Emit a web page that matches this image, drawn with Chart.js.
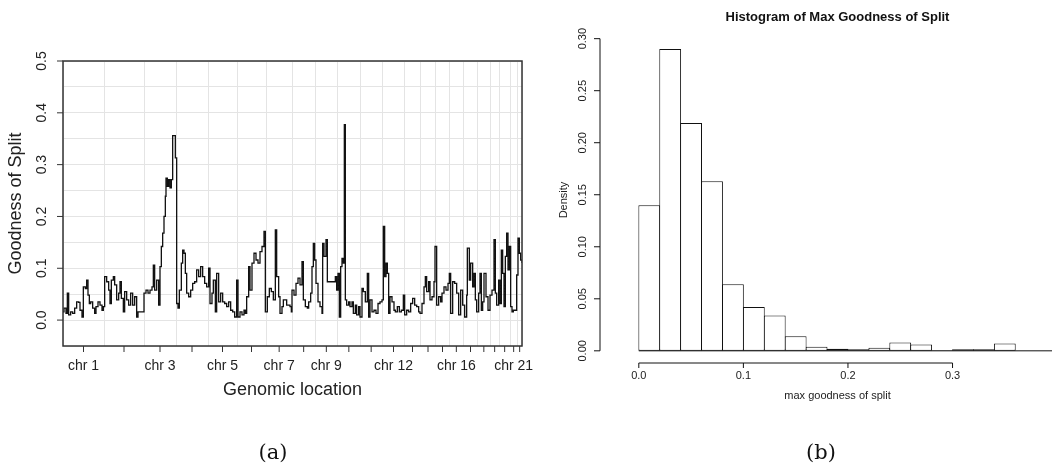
<!DOCTYPE html>
<html>
<head>
<meta charset="utf-8">
<script src="https://cdn.jsdelivr.net/npm/chart.js@4.4.1/dist/chart.umd.min.js"></script>
<style>
  html, body { margin: 0; padding: 0; background: #fff; }
  #wrap { position: relative; width: 1052px; height: 471px; overflow: hidden; }
  #chartA { position: absolute; left: 0; top: 0; }
  #chartB { position: absolute; left: 540px; top: 0; }
  .cap { position: absolute; top: 440px; width: 100px; line-height: 24px; text-align: center;
         font-family: "DejaVu Serif", "Liberation Serif", serif; font-size: 21px; color: #111; }
</style>
</head>
<body>
<div id="wrap">
  <canvas id="chartA" width="540" height="471"></canvas>
  <canvas id="chartB" width="535" height="471"></canvas>
  <div class="cap" style="left:223px">(a)</div>
  <div class="cap" style="left:771px">(b)</div>
</div>
<script>
/* (a) chromosome boundaries along the genome axis (location index) */
const chrBounds = [0, 123, 243, 339, 435, 522, 609, 688, 756, 824, 891, 958, 1025,
                   1072, 1118, 1159, 1201, 1244, 1281, 1309, 1341, 1363, 1377];
const chrShown = [1, 3, 5, 7, 9, 12, 16, 21];
const splitTicks = [0, 0.1, 0.2, 0.3, 0.4, 0.5];

/* (a) goodness of split along the genome */
const locs = [
  0, 3, 9, 13, 17, 23, 29, 35, 41, 47, 51, 57, 61, 67, 71, 75, 79, 83, 89, 95,
  99, 105, 111, 117, 121, 125, 131, 137, 141, 145, 151, 155, 161, 167, 171, 175, 181, 185, 191, 197,
  203, 209, 215, 221, 225, 241, 243, 249, 255, 261, 267, 271, 275, 281, 287, 291, 295, 299, 303, 307,
  309, 313, 317, 321, 325, 329, 335, 337, 341, 345, 349, 355, 359, 363, 367, 371, 377, 383, 389, 395,
  401, 407, 413, 419, 425, 431, 437, 441, 447, 451, 457, 461, 467, 473, 479, 485, 491, 497, 503, 509,
  515, 521, 525, 531, 537, 543, 547, 551, 557, 561, 567, 573, 579, 585, 591, 597, 603, 607, 613, 619,
  625, 631, 637, 641, 647, 651, 657, 661, 671, 681, 685, 687, 693, 699, 705, 711, 717, 721, 727, 733,
  737, 743, 747, 751, 755, 759, 765, 771, 777, 779, 783, 787, 789, 793, 811, 817, 821, 825, 829, 833,
  837, 841, 844, 847, 851, 857, 861, 867, 871, 877, 881, 887, 891, 897, 901, 907, 913, 917, 921, 927,
  933, 939, 945, 951, 957, 961, 965, 969, 973, 977, 981, 987, 993, 997, 1003, 1009, 1015, 1021, 1025, 1031,
  1037, 1043, 1049, 1055, 1061, 1067, 1071, 1077, 1083, 1087, 1091, 1097, 1101, 1107, 1113, 1116, 1121, 1127, 1133, 1137,
  1143, 1149, 1155, 1159, 1163, 1169, 1175, 1181, 1187, 1193, 1199, 1205, 1211, 1213, 1219, 1223, 1229, 1233, 1237, 1241,
  1247, 1251, 1255, 1259, 1263, 1269, 1275, 1281, 1287, 1293, 1297, 1301, 1307, 1311, 1315, 1319, 1323, 1327, 1331, 1335,
  1339, 1343, 1347, 1351, 1357, 1361, 1365, 1369, 1373, 1377
];
const gos = [
  0.016, 0.023, 0.013, 0.052, 0.010, 0.016, 0.013, 0.023, 0.035, 0.034, 0.019, 0.006, 0.064, 0.061, 0.077, 0.048, 0.032, 0.035, 0.023, 0.013,
  0.026, 0.035, 0.029, 0.019, 0.026, 0.084, 0.074, 0.058, 0.032, 0.077, 0.084, 0.068, 0.039, 0.052, 0.074, 0.042, 0.016, 0.055, 0.039, 0.029,
  0.052, 0.029, 0.045, 0.006, 0.016, 0.016, 0.052, 0.058, 0.052, 0.058, 0.064, 0.106, 0.058, 0.077, 0.029, 0.103, 0.142, 0.168, 0.200, 0.239,
  0.274, 0.258, 0.271, 0.255, 0.271, 0.356, 0.356, 0.313, 0.032, 0.023, 0.058, 0.110, 0.135, 0.129, 0.090, 0.052, 0.045, 0.058, 0.071, 0.074,
  0.097, 0.084, 0.103, 0.084, 0.071, 0.064, 0.100, 0.032, 0.052, 0.077, 0.016, 0.090, 0.035, 0.052, 0.035, 0.032, 0.026, 0.035, 0.019, 0.016,
  0.006, 0.077, 0.006, 0.016, 0.010, 0.019, 0.013, 0.045, 0.103, 0.058, 0.110, 0.129, 0.116, 0.110, 0.132, 0.142, 0.171, 0.016, 0.045, 0.061,
  0.055, 0.039, 0.174, 0.084, 0.045, 0.013, 0.026, 0.039, 0.029, 0.026, 0.016, 0.058, 0.048, 0.071, 0.081, 0.068, 0.113, 0.039, 0.026, 0.023,
  0.035, 0.052, 0.103, 0.148, 0.116, 0.071, 0.035, 0.026, 0.013, 0.148, 0.123, 0.123, 0.155, 0.074, 0.074, 0.084, 0.058, 0.090, 0.006, 0.103,
  0.119, 0.110, 0.377, 0.039, 0.029, 0.035, 0.026, 0.035, 0.013, 0.029, 0.010, 0.026, 0.006, 0.061, 0.055, 0.035, 0.090, 0.006, 0.039, 0.016,
  0.019, 0.013, 0.032, 0.035, 0.039, 0.181, 0.084, 0.110, 0.090, 0.013, 0.045, 0.035, 0.019, 0.016, 0.026, 0.016, 0.019, 0.048, 0.010, 0.019,
  0.016, 0.032, 0.042, 0.029, 0.026, 0.016, 0.013, 0.032, 0.064, 0.084, 0.055, 0.074, 0.039, 0.045, 0.074, 0.142, 0.029, 0.045, 0.035, 0.052,
  0.064, 0.058, 0.071, 0.090, 0.013, 0.074, 0.071, 0.052, 0.010, 0.058, 0.029, 0.006, 0.048, 0.139, 0.077, 0.110, 0.064, 0.090, 0.039, 0.016,
  0.052, 0.090, 0.019, 0.035, 0.090, 0.045, 0.019, 0.048, 0.058, 0.155, 0.052, 0.029, 0.077, 0.032, 0.135, 0.090, 0.026, 0.123, 0.168, 0.097,
  0.142, 0.026, 0.016, 0.019, 0.019, 0.087, 0.158, 0.129, 0.116, 0.110
];

/* (b) histogram of max goodness of split */
const breaks = [0, 0.02, 0.04, 0.06, 0.08, 0.10, 0.12, 0.14, 0.16, 0.18,
                0.20, 0.22, 0.24, 0.26, 0.28, 0.30, 0.32, 0.34, 0.36];
const density = [0.140, 0.290, 0.219, 0.163, 0.064, 0.042, 0.034, 0.014, 0.004,
                 0.002, 0.0015, 0.003, 0.008, 0.006, 0.0006, 0.0015, 0.0015, 0.007];
const densTicks = [0, 0.05, 0.10, 0.15, 0.20, 0.25, 0.30];
const maxTicks = [0, 0.1, 0.2, 0.3];

const sans = '"Liberation Sans", Arial, Helvetica, sans-serif';

/* R風の枠と軸 (a) */
const boxAxes = {
  id: 'boxAxes',
  afterDraw(chart) {
    const {ctx, chartArea: a, scales: {x, y}} = chart;
    ctx.save();
    ctx.strokeStyle = '#333';
    ctx.lineWidth = 1.5;
    ctx.strokeRect(a.left, a.top, a.right - a.left, a.bottom - a.top);
    ctx.lineWidth = 1;
    ctx.fillStyle = '#222';
    ctx.textAlign = 'center';
    ctx.textBaseline = 'middle';
    ctx.font = '14px ' + sans;
    splitTicks.forEach(v => {
      const py = y.getPixelForValue(v);
      ctx.beginPath(); ctx.moveTo(a.left - 6, py); ctx.lineTo(a.left, py); ctx.stroke();
      ctx.save();
      ctx.translate(a.left - 21, py);
      ctx.rotate(-Math.PI / 2);
      ctx.fillText(v.toFixed(1), 0, 0);
      ctx.restore();
    });
    for (let i = 0; i < chrBounds.length - 1; i++) {
      const px = x.getPixelForValue((chrBounds[i] + chrBounds[i + 1]) / 2);
      ctx.beginPath(); ctx.moveTo(px, a.bottom); ctx.lineTo(px, a.bottom + 6); ctx.stroke();
      if (chrShown.includes(i + 1)) {
        ctx.fillText('chr ' + (i + 1), px, a.bottom + 20);
      }
    }
    ctx.font = '18px ' + sans;
    ctx.fillText('Genomic location', (a.left + a.right) / 2, a.bottom + 44);
    ctx.save();
    ctx.translate(a.left - 47, (a.top + a.bottom) / 2);
    ctx.rotate(-Math.PI / 2);
    ctx.fillText('Goodness of Split', 0, 0);
    ctx.restore();
    ctx.restore();
  }
};

let ctxA = document.getElementById('chartA').getContext('2d');
let chartA = new Chart(ctxA, {
  type: 'line',
  data: {
    datasets: [{
      data: locs.map((v, i) => ({x: v, y: gos[i]})),
      borderColor: '#111',
      borderWidth: 1.3,
      pointRadius: 0,
      stepped: true,
      fill: false
    }]
  },
  options: {
    responsive: false,
    animation: false,
    layout: {padding: {left: 63, right: 18, top: 61, bottom: 125}},
    plugins: {legend: {display: false}, tooltip: {enabled: false}},
    scales: {
      x: {
        type: 'linear', min: 0, max: 1377,
        afterBuildTicks: s => { s.ticks = chrBounds.map(v => ({value: v})); },
        ticks: {display: false},
        grid: {color: '#e4e4e4', drawTicks: false},
        border: {display: false}
      },
      y: {
        min: -0.05, max: 0.5,
        ticks: {display: false, stepSize: 0.05},
        grid: {color: '#e4e4e4', drawTicks: false},
        border: {display: false}
      }
    }
  },
  plugins: [boxAxes]
});

/* R風の軸 (b) */
const histAxes = {
  id: 'histAxes',
  afterDraw(chart) {
    const {ctx, chartArea: a, scales: {x, y}} = chart;
    const y0 = y.getPixelForValue(0);
    ctx.save();
    ctx.strokeStyle = '#111';
    ctx.lineWidth = 1;
    /* baseline under the bars */
    ctx.beginPath(); ctx.moveTo(x.getPixelForValue(0), y0); ctx.lineTo(a.right, y0); ctx.stroke();
    /* y axis */
    ctx.beginPath();
    ctx.moveTo(a.left, y.getPixelForValue(densTicks[0]));
    ctx.lineTo(a.left, y.getPixelForValue(densTicks[densTicks.length - 1]));
    ctx.stroke();
    ctx.fillStyle = '#222';
    ctx.textAlign = 'center';
    ctx.textBaseline = 'middle';
    ctx.font = '11px ' + sans;
    densTicks.forEach(v => {
      const py = y.getPixelForValue(v);
      ctx.beginPath(); ctx.moveTo(a.left - 6, py); ctx.lineTo(a.left, py); ctx.stroke();
      ctx.save();
      ctx.translate(a.left - 17, py);
      ctx.rotate(-Math.PI / 2);
      ctx.fillText(v.toFixed(2), 0, 0);
      ctx.restore();
    });
    /* x axis */
    ctx.beginPath();
    ctx.moveTo(x.getPixelForValue(maxTicks[0]), a.bottom);
    ctx.lineTo(x.getPixelForValue(maxTicks[maxTicks.length - 1]), a.bottom);
    ctx.stroke();
    maxTicks.forEach(v => {
      const px = x.getPixelForValue(v);
      ctx.beginPath(); ctx.moveTo(px, a.bottom); ctx.lineTo(px, a.bottom + 5); ctx.stroke();
      ctx.fillText(v.toFixed(1), px, a.bottom + 13);
    });
    ctx.fillText('max goodness of split', (a.left + a.right) / 2, a.bottom + 33);
    ctx.save();
    ctx.translate(a.left - 36, (a.top + a.bottom) / 2);
    ctx.rotate(-Math.PI / 2);
    ctx.fillText('Density', 0, 0);
    ctx.restore();
    ctx.font = 'bold 13px ' + sans;
    ctx.fillStyle = '#111';
    ctx.fillText('Histogram of Max Goodness of Split', (a.left + a.right) / 2, 17);
    ctx.restore();
  }
};

let ctxB = document.getElementById('chartB').getContext('2d');
let chartB = new Chart(ctxB, {
  type: 'bar',
  data: {
    datasets: [{
      data: density.map((d, i) => ({x: (breaks[i] + breaks[i + 1]) / 2, y: d})),
      backgroundColor: '#fff',
      borderColor: '#111',
      borderWidth: 1,
      borderSkipped: false,
      inflateAmount: 0,
      /* bars overlap by one pixel so neighbouring borders share a line */
      barPercentage: 1.043,
      categoryPercentage: 1
    }]
  },
  options: {
    responsive: false,
    animation: false,
    layout: {padding: {left: 60, right: 0, top: 37, bottom: 108}},
    plugins: {legend: {display: false}, tooltip: {enabled: false}},
    scales: {
      x: {
        type: 'linear', min: -0.0144, max: 0.3944, display: false,
        afterBuildTicks: s => { s.ticks = breaks.map(v => ({value: v})); }
      },
      y: {min: -0.0117, max: 0.3016, display: false}
    }
  },
  plugins: [histAxes]
});
</script>
</body>
</html>
